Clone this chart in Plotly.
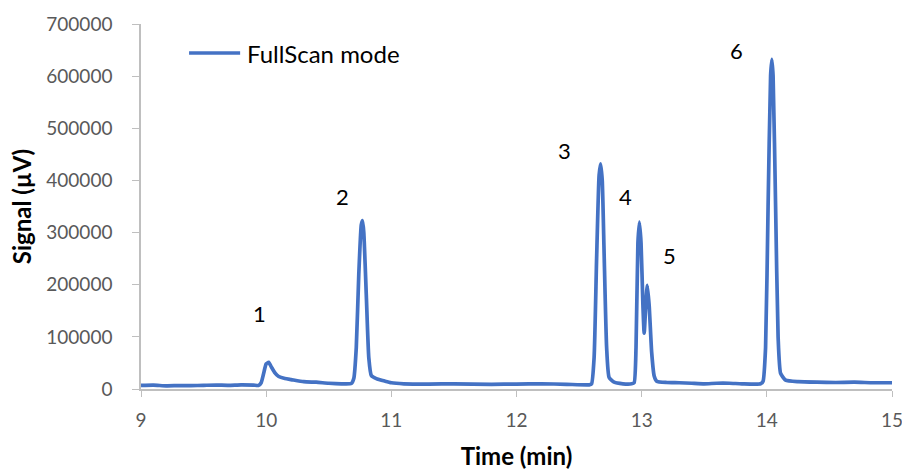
import plotly.graph_objects as go

# Chromatogram (FullScan mode): retention time in minutes, signal in microvolts
time_min = [
    9.00, 9.10, 9.20, 9.30, 9.40, 9.50, 9.60, 9.70, 9.80, 9.90, 9.94,
    9.96, 9.98, 10.00, 10.02, 10.04, 10.07, 10.10, 10.15, 10.20, 10.30, 10.40, 10.50, 10.60, 10.68,
    10.70, 10.72, 10.74, 10.76, 10.77, 10.78, 10.80, 10.82, 10.84, 10.88, 10.95, 11.00,
    11.10, 11.30, 11.50, 11.80, 12.00, 12.20, 12.40, 12.58,
    12.60, 12.62, 12.64, 12.66, 12.672, 12.685, 12.70, 12.72, 12.74, 12.78, 12.85, 12.92,
    12.94, 12.955, 12.97, 12.982, 12.995, 13.01, 13.02, 13.035, 13.045, 13.06, 13.08, 13.10, 13.12,
    13.20, 13.30, 13.40, 13.50, 13.60, 13.70, 13.80, 13.95,
    13.97, 13.99, 14.01, 14.03, 14.04, 14.05, 14.07, 14.09, 14.11, 14.15,
    14.25, 14.40, 14.55, 14.70, 14.85, 15.00,
]
signal_uv = [
    7000, 7500, 6000, 6500, 6500, 7000, 7500, 7000, 8000, 7500, 7000,
    12000, 30000, 48000, 51000, 43000, 31000, 24000, 20000, 18000, 14000, 13000, 11000, 10000, 10500,
    20000, 80000, 220000, 315000, 323000, 300000, 180000, 60000, 26000, 20000, 15000, 12000,
    10000, 9500, 10000, 9000, 9500, 10000, 9000, 8000,
    10000, 60000, 250000, 410000, 432000, 400000, 260000, 80000, 22000, 13000, 10000, 10000,
    12000, 80000, 280000, 320000, 280000, 160000, 107000, 170000, 199000, 160000, 70000, 25000, 15000,
    12500, 12000, 11000, 10000, 11000, 11000, 10000, 10000,
    15000, 80000, 350000, 600000, 632000, 600000, 350000, 100000, 30000, 17000,
    14000, 13000, 12500, 13000, 12000, 12000,
]

# Peak numbers and their label positions
peak_labels = ["1", "2", "3", "4", "5", "6"]
label_time = [9.95, 10.61, 12.38, 12.87, 13.22, 13.76]
label_signal = [144000, 369000, 457000, 369000, 256000, 650000]

y_ticks = [0, 100000, 200000, 300000, 400000, 500000, 600000, 700000]
x_ticks = [9, 10, 11, 12, 13, 14, 15]

series_name = "FullScan mode"

blue = "#4472C4"
grey_axis = "#BFBFBF"
FONT = "Lato, Open Sans, sans-serif"
tick_font = dict(family=FONT, size=19, color="#595959")

fig = go.Figure()
fig.add_trace(go.Scatter(
    x=time_min, y=signal_uv, mode="lines", name=series_name, showlegend=False,
    line=dict(color=blue, width=3.7, shape="spline", smoothing=0.5),
))

for txt, tx, ty in zip(peak_labels, label_time, label_signal):
    fig.add_annotation(x=tx, y=ty, text=txt, showarrow=False,
                       font=dict(family=FONT, size=22, color="#000000"))

# Legend key: a short line sample followed by the series name
fig.add_shape(type="line", xref="paper", yref="paper",
              x0=0.064, x1=0.132, y0=0.9205, y1=0.9205,
              line=dict(color=blue, width=3.7))
fig.add_annotation(xref="paper", yref="paper", x=0.139, y=0.9205,
                   xanchor="left", yanchor="middle", showarrow=False,
                   text=series_name, font=dict(family=FONT, size=24, color="#000000"))

fig.update_layout(
    width=902, height=470,
    margin=dict(l=141, r=10, t=24, b=81),
    paper_bgcolor="white", plot_bgcolor="white",
    showlegend=False,
    xaxis=dict(
        range=[9, 15], tickvals=x_ticks, ticktext=[str(v) for v in x_ticks],
        automargin=False, ticklabeloverflow="allow", ticklabelstandoff=7,
        showgrid=False, zeroline=False, showline=True, linecolor=grey_axis, linewidth=1.5,
        ticks="outside", ticklen=6, tickcolor=grey_axis, tickfont=tick_font,
        title=dict(text="<b>Time (min)</b>", standoff=21,
                   font=dict(family=FONT, size=24, color="#000000")),
    ),
    yaxis=dict(
        range=[0, 700000], tickvals=y_ticks, ticktext=[str(v) for v in y_ticks],
        automargin=False, ticklabelstandoff=16,
        showgrid=False, zeroline=False, showline=True, linecolor=grey_axis, linewidth=1.5,
        ticks="outside", ticklen=7, tickcolor=grey_axis, tickfont=tick_font,
        title=dict(text="<b>Signal (µV)</b>", standoff=8,
                   font=dict(family=FONT, size=24, color="#000000")),
    ),
)

fig.write_html("out.html")
